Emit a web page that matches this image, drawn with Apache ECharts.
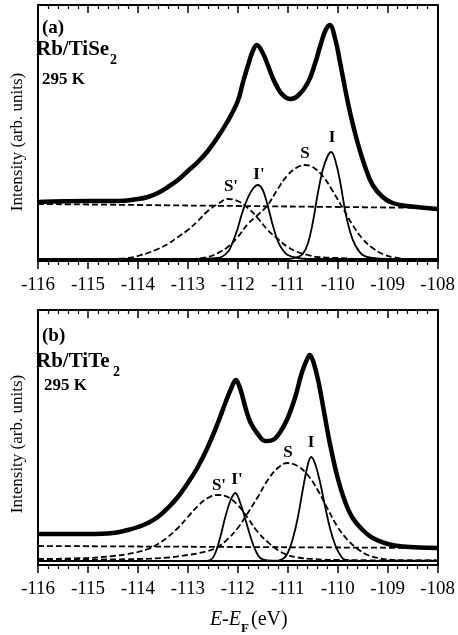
<!DOCTYPE html>
<html><head><meta charset="utf-8">
<script src="https://cdn.jsdelivr.net/npm/echarts@6/dist/echarts.min.js"></script>
<style>html,body{margin:0;padding:0;background:#fff}#c{width:458px;height:635px}</style>
</head><body><div id="c"></div>
<script>
// ---------- Panel (a): Rb/TiSe2 ----------
const aDataE = [-116,-115,-114.4,-114.0,-113.8,-113.6,-113.4,-113.2,-113.0,-112.8,-112.6,-112.4,-112.2,-112.0,-111.9,-111.8,-111.7,-111.62,-111.5,-111.4,-111.3,-111.2,-111.1,-110.95,-110.8,-110.6,-110.45,-110.35,-110.25,-110.16,-110.05,-109.95,-109.85,-109.75,-109.6,-109.45,-109.3,-109.1,-108.9,-108.6,-108];
const aDataI = [59,60,60,62,64,68,74,81,90,99,110,124,140,160,178,195,210,216,208,196,183,173,166,162,165,178,198,215,230,236,222,198,172,148,118,94,76,64,58,55,52];
const aBgE = [-116,-114,-112,-110,-108];
const aBgI = [57,56,55,54,53];
const aSpE = [-116,-114.6,-114.2,-114.0,-113.8,-113.6,-113.4,-113.2,-113.0,-112.8,-112.6,-112.4,-112.2,-112.0,-111.8,-111.6,-111.4,-111.2,-111.0,-110.8,-110.6,-110.4,-110.0,-109.5,-108];
const aSpI = [2,2,3,5,8,12,17,24,31,40,50,57,62,60,53,43,31,22,14,9,6,4,3,2,2];
const aIpE = [-116,-113,-112.4,-112.2,-112.1,-112.0,-111.9,-111.8,-111.7,-111.6,-111.5,-111.4,-111.3,-111.2,-111.1,-111.0,-110.8,-110.6,-108];
const aIpI = [2,2,3,9,19,33,50,63,72,76,71,55,36,20,11,6,3,2,2];
const aSE = [-116,-113,-112.6,-112.4,-112.2,-112.0,-111.8,-111.6,-111.4,-111.2,-111.0,-110.8,-110.66,-110.5,-110.3,-110.1,-109.9,-109.7,-109.5,-109.3,-109.1,-108.9,-108.6,-108];
const aSI = [2,2,4,8,14,24,37,46,56,72,86,94,96,94,85,70,53,36,22,13,7,4,2,2];
const aIE = [-116,-111,-110.8,-110.7,-110.6,-110.5,-110.4,-110.3,-110.2,-110.13,-110.05,-109.95,-109.85,-109.75,-109.65,-109.5,-109.3,-109,-108];
const aII = [2,2,4,7,17,38,67,91,105,109,101,79,50,29,16,6,3,2,2];

// ---------- Panel (b): Rb/TiTe2 ----------
const bDataE = [-116,-115,-114.5,-114.2,-114.0,-113.8,-113.6,-113.4,-113.2,-113.0,-112.8,-112.6,-112.4,-112.25,-112.12,-112.04,-111.95,-111.85,-111.75,-111.6,-111.45,-111.3,-111.15,-111.0,-110.85,-110.72,-110.62,-110.56,-110.48,-110.38,-110.28,-110.15,-110.0,-109.85,-109.7,-109.5,-109.3,-109.0,-108.7,-108];
const bDataI = [31,31,32,35,38,42,48,57,68,82,98,118,142,162,178,185,176,158,143,131,124,125,133,147,168,192,205,210,202,182,155,120,87,63,47,35,27,21,18.5,17];
const bBgE = [-116,-114,-112,-110,-108];
const bBgI = [19,18.5,18,17.5,17];
const bSpE = [-116,-115,-114.5,-114.2,-114.0,-113.8,-113.6,-113.4,-113.2,-113.0,-112.8,-112.6,-112.4,-112.2,-112.0,-111.8,-111.6,-111.4,-111.2,-111.0,-110.8,-110.5,-110,-108];
const bSpI = [6,7,9,11,13,16,21,28,37,48,59,67,70,68,60,47,33,23,15,10,7.5,6,5,4.5];
const bIpE = [-116,-112.7,-112.55,-112.45,-112.35,-112.25,-112.15,-112.05,-111.95,-111.85,-111.75,-111.65,-111.55,-111.4,-111.2,-108];
const bIpI = [4,4,5,12,28,48,64,72,62,46,29,15,7,4.5,4,4];
const bSE = [-116,-114,-113.4,-113.0,-112.6,-112.4,-112.2,-112.0,-111.8,-111.6,-111.4,-111.2,-111.0,-110.8,-110.6,-110.4,-110.2,-110.0,-109.8,-109.6,-109.4,-109.2,-109.0,-108.5,-108];
const bSI = [5,6,7.5,10,14,18,26,37,52,68,85,97,102,99,90,75,56,38,25,16,10,7,5.5,4.5,4.5];
const bIE = [-116,-111.3,-111.1,-111.0,-110.9,-110.8,-110.7,-110.6,-110.53,-110.45,-110.35,-110.25,-110.15,-110.05,-109.95,-109.85,-109.6,-108];
const bII = [4,4,6,12,26,47,75,100,108,101,82,58,36,20,10,5,4,4];

const xTicks = [-116,-115,-114,-113,-112,-111,-110,-109,-108];

function zip(xs, ys){ return xs.map((x,i)=>[x, ys[i]]); }

const serif = '"Liberation Serif","DejaVu Serif",serif';
const black = '#000';

function xAx(grid, pos){
  const top = pos === 'top';
  return {
    type:'value', gridIndex:grid, position:pos, min:xTicks[0], max:xTicks[xTicks.length-1], interval:1,
    axisLine:{show:true, onZero:false, lineStyle:{color:black, width:2}},
    axisTick:{show:true, inside:top, length:8, lineStyle:{color:black, width:1.5}},
    minorTick:{show:true, splitNumber:5, length:4, lineStyle:{color:black, width:1.2}},
    axisLabel:{show:!top, color:black, fontFamily:serif, fontSize:19, margin:15},
    splitLine:{show:false}, minorSplitLine:{show:false}
  };
}
function yAx(grid, pos, max){
  return {
    type:'value', gridIndex:grid, position:pos, min:0, max:max,
    axisLine:{show:true, onZero:false, lineStyle:{color:black, width:2}},
    axisTick:{show:false}, axisLabel:{show:false}, splitLine:{show:false}
  };
}
function dataLine(xi, yi, d){
  return {type:'line', xAxisIndex:xi, yAxisIndex:yi, data:d, smooth:0.4, showSymbol:false,
    lineStyle:{color:black, width:4.5}, z:5};
}
function comp(xi, yi, d, dashed){
  return {type:'line', xAxisIndex:xi, yAxisIndex:yi, data:d, smooth:0.4, showSymbol:false,
    lineStyle:{color:black, width:1.8, type: dashed ? [6,3] : 'solid'}, z:3};
}

const chart = echarts.init(document.getElementById('c'), null, {renderer:'canvas'});

function txt(x, y, text, font, align, rot){
  return {type:'text', x:x, y:y, rotation: rot || 0,
    style:{text:text, font:font, fill:black, textAlign:align||'left', textVerticalAlign:'middle'}, z:10};
}
const lblFont = 'bold 17px ' + serif;

chart.setOption({
  backgroundColor:'#fff',
  animation:false,
  grid:[
    {left:38, right:20, top:5, height:256},
    {left:38, right:20, top:310, height:255}
  ],
  xAxis:[xAx(0,'bottom'), xAx(0,'top'), xAx(1,'bottom'), xAx(1,'top')],
  yAxis:[yAx(0,'left',256), yAx(0,'right',256), yAx(1,'left',255), yAx(1,'right',255)],
  series:[
    dataLine(0,0,zip(aDataE,aDataI)),
    comp(0,0,zip(aBgE,aBgI),true),
    comp(0,0,zip(aSpE,aSpI),true),
    comp(0,0,zip(aIpE,aIpI),false),
    comp(0,0,zip(aSE,aSI),true),
    comp(0,0,zip(aIE,aII),false),
    dataLine(2,2,zip(bDataE,bDataI)),
    comp(2,2,zip(bBgE,bBgI),true),
    comp(2,2,zip(bSpE,bSpI),true),
    comp(2,2,zip(bIpE,bIpI),false),
    comp(2,2,zip(bSE,bSI),true),
    comp(2,2,zip(bIE,bII),false)
  ],
  graphic:[
    txt(42, 28, '(a)', 'bold 19px ' + serif),
    txt(36, 50, 'Rb/TiSe', 'bold 21px ' + serif),
    txt(110, 60, '2', 'bold 14px ' + serif),
    txt(42, 80, '295 K', 'bold 17px ' + serif),
    txt(42, 336, '(b)', 'bold 19px ' + serif),
    txt(36, 362, 'Rb/TiTe', 'bold 21px ' + serif),
    txt(113, 372, '2', 'bold 14px ' + serif),
    txt(44, 386, '295 K', 'bold 17px ' + serif),
    txt(231, 187, "S'", lblFont, 'center'),
    txt(259, 175, "I'", lblFont, 'center'),
    txt(305, 154, 'S', lblFont, 'center'),
    txt(332, 138, 'I', lblFont, 'center'),
    txt(219, 486, "S'", lblFont, 'center'),
    txt(237, 480, "I'", lblFont, 'center'),
    txt(288, 453, 'S', lblFont, 'center'),
    txt(311, 443, 'I', lblFont, 'center'),
    txt(18, 142, 'Intensity (arb. units)', '17px ' + serif, 'center', Math.PI/2),
    txt(18, 444, 'Intensity (arb. units)', '17px ' + serif, 'center', Math.PI/2),
    txt(241, 620, 'E-E', 'italic 20px ' + serif, 'right'),
    txt(241, 629, 'F', 'bold 13px ' + serif, 'left'),
    txt(251, 620, '(eV)', '20px ' + serif, 'left')
  ]
});
</script></body></html>
